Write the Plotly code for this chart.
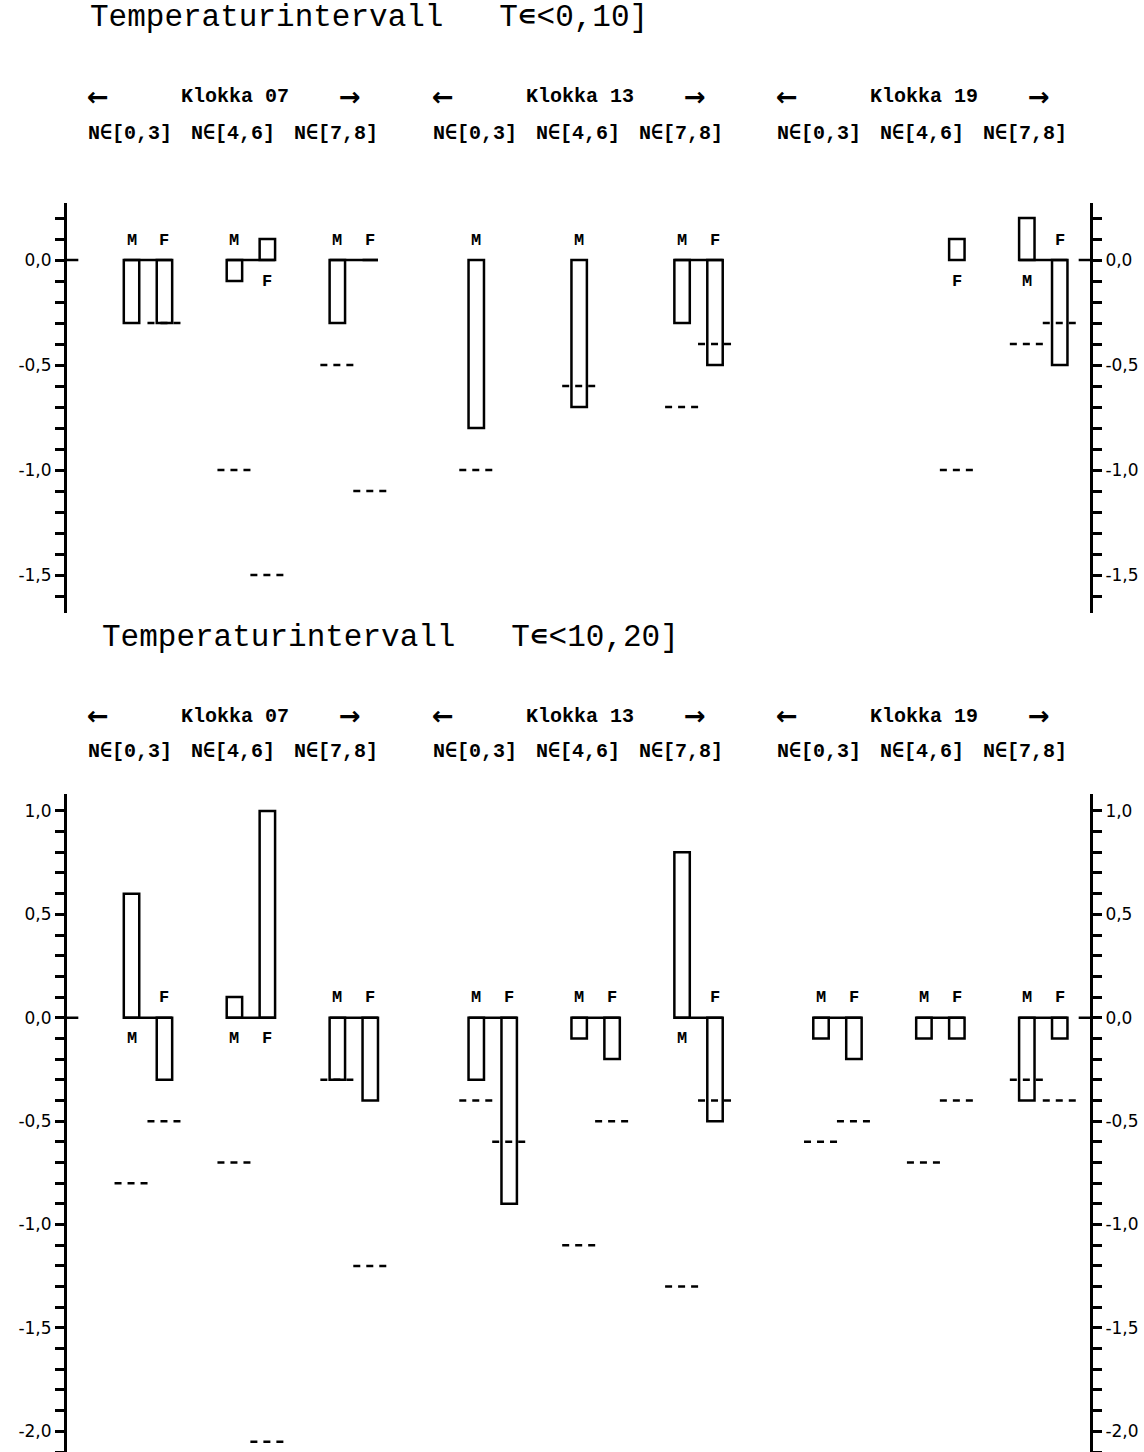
import plotly.graph_objects as go

# ---------------- data ----------------
clocks = ["07", "13", "19"]
n_classes = ["N∈[0,3]", "N∈[4,6]", "N∈[7,8]"]
panel_titles = ["Temperaturintervall   T∊<0,10]", "Temperaturintervall   T∊<10,20]"]

# top panel (T in <0,10]) : 9 groups = clock x N-class
top_M = [-0.3, -0.1, -0.3, -0.8, -0.7, -0.3, None, None, 0.2]
top_F = [-0.3, 0.1, 0.0, None, None, -0.5, None, 0.1, -0.5]
top_M_ref = [None, -1.0, -0.5, -1.0, -0.6, -0.7, None, None, -0.4]
top_F_ref = [-0.3, -1.5, -1.1, None, None, -0.4, None, -1.0, -0.3]

# bottom panel (T in <10,20])
bot_M = [0.6, 0.1, -0.3, -0.3, -0.1, 0.8, -0.1, -0.1, -0.4]
bot_F = [-0.3, 1.0, -0.4, -0.9, -0.2, -0.5, -0.2, -0.1, -0.1]
bot_M_ref = [-0.8, -0.7, -0.3, -0.4, -1.1, -1.3, -0.6, -0.7, -0.3]
bot_F_ref = [-0.5, -2.05, -1.2, -0.6, -0.5, -0.4, -0.5, -0.4, -0.4]

top_tick_vals = [-1.5, -1.0, -0.5, 0.0]
top_tick_text = ["-1,5", "-1,0", "-0,5", "0,0"]
bot_tick_vals = [-2.0, -1.5, -1.0, -0.5, 0.0, 0.5, 1.0]
bot_tick_text = ["-2,0", "-1,5", "-1,0", "-0,5", "0,0", "0,5", "1,0"]

# ---------------- layout helpers ----------------
W, H = 1144, 1452
CLOCK_GAP = 3.35
pos = [ci * CLOCK_GAP + ni for ci in range(len(clocks)) for ni in range(len(n_classes))]
OFF = 0.16
BW = 0.15
DW = 0.165
XR = [-0.787, 9.154]

def py(p):
    return 1 - p / H

def px(p):
    return p / W

fig = go.Figure()

panels = [
    dict(M=top_M, F=top_F, Mr=top_M_ref, Fr=top_F_ref, xa="x", ya="y"),
    dict(M=bot_M, F=bot_F, Mr=bot_M_ref, Fr=bot_F_ref, xa="x2", ya="y2"),
]

annotations = []
shapes = []
lab_font = dict(family="Liberation Mono, Courier New, monospace", size=17, color="black", weight="bold")

for p in panels:
    xa, ya = p["xa"], p["ya"]
    # baselines
    bx, byv = [], []
    for i, x in enumerate(pos):
        if p["M"][i] is not None and p["F"][i] is not None:
            bx += [x - OFF - BW / 2, x + OFF + BW / 2, None]
            byv += [0, 0, None]
    fig.add_trace(go.Scatter(x=bx, y=byv, mode="lines", line=dict(color="black", width=2.5),
                             xaxis=xa, yaxis=ya, showlegend=False, hoverinfo="skip"))
    # bars
    for key, sgn in (("M", -1), ("F", 1)):
        xs = [x + sgn * OFF for x in pos]
        fig.add_trace(go.Bar(x=xs, y=p[key], base=0, width=BW,
                             marker=dict(color="white", line=dict(color="black", width=2.5)),
                             xaxis=xa, yaxis=ya, showlegend=False, name=key))
    # reference dashes
    for key, sgn in (("Mr", -1), ("Fr", 1)):
        dx, dy = [], []
        for i, x in enumerate(pos):
            v = p[key][i]
            if v is not None:
                c = x + sgn * OFF
                dx += [c - DW, c + DW, None]
                dy += [v, v, None]
        fig.add_trace(go.Scatter(x=dx, y=dy, mode="lines",
                                 line=dict(color="black", width=2.5, dash="7px,6px"),
                                 xaxis=xa, yaxis=ya, showlegend=False, hoverinfo="skip"))
    # M / F labels
    for key, sgn in (("M", -1), ("F", 1)):
        for i, x in enumerate(pos):
            v = p[key][i]
            if v is None:
                continue
            annotations.append(dict(x=x + sgn * OFF, y=0, xref=xa, yref=ya, text=key,
                                    showarrow=False, font=lab_font,
                                    xanchor="center", yanchor="middle",
                                    yshift=20 if v <= 0 else -21))
    # zero ticks crossing the axes
    shapes.append(dict(type="line", xref=xa, yref=ya, x0=XR[0], x1=XR[0] + 0.11, y0=0, y1=0,
                       line=dict(color="black", width=2.5)))
    shapes.append(dict(type="line", xref=xa, yref=ya, x0=XR[1] - 0.11, x1=XR[1], y0=0, y1=0,
                       line=dict(color="black", width=2.5)))

# headers and titles
title_font = dict(family="Liberation Mono, Courier New, monospace", size=31, color="black")
hdr_font = dict(family="Liberation Mono, Courier New, monospace", size=20, color="black", weight="bold")
arrow_font = dict(family="DejaVu Sans, sans-serif", size=26, color="black", weight="bold")
title_pos = [(88, 18), (100, 637)]
klokka_y = [97, 716]
n_y = [133, 751]
for k, xa in enumerate(["x", "x2"]):
    annotations.append(dict(x=px(title_pos[k][0]), y=py(title_pos[k][1]), xref="paper", yref="paper",
                            text=panel_titles[k], showarrow=False, xanchor="left", yanchor="middle",
                            font=title_font))
    for ci, cl in enumerate(clocks):
        g = pos[ci * 3: ci * 3 + 3]
        common = dict(xref=xa, y=py(klokka_y[k]), yref="paper", showarrow=False,
                      xanchor="center", yanchor="middle")
        annotations.append(dict(x=g[0], text="←", xshift=-50, font=arrow_font, **common))
        annotations.append(dict(x=g[1], text="Klokka " + cl, xshift=-16, font=hdr_font, **common))
        annotations.append(dict(x=g[2], text="→", xshift=-4, font=arrow_font, **common))
        for ni, nc in enumerate(n_classes):
            annotations.append(dict(x=g[ni], xref=xa, y=py(n_y[k]), yref="paper", text=nc,
                                    showarrow=False, xanchor="center", yanchor="middle",
                                    xshift=-18, font=hdr_font))

xdom = [px(67), px(1090)]
tick_font = dict(family="DejaVu Sans, sans-serif", size=17, color="black")

def yax(rng, dom, tv, tt, **kw):
    d = dict(range=rng, domain=dom, showline=True, linecolor="black", linewidth=3,
             ticks="outside", ticklen=9, tickwidth=2.5, tickcolor="black",
             tickmode="array", tickvals=tv, ticktext=tt, tickfont=tick_font,
             showgrid=False, zeroline=False, fixedrange=True,
             minor=dict(tickmode="linear", tick0=0, dtick=0.1, ticks="outside", ticklen=9,
                        tickwidth=2.5, tickcolor="black", showgrid=False))
    d.update(kw)
    return d

top_rng = [-1.68, 0.27]
top_dom = [py(612.8), py(203.3)]
bot_rng = [-2.1, 1.08]
bot_dom = [py(1452), py(794.4)]

fig.update_layout(
    width=W, height=H, margin=dict(l=0, r=0, t=0, b=0),
    paper_bgcolor="white", plot_bgcolor="white",
    barmode="overlay", showlegend=False,
    xaxis=dict(range=XR, domain=xdom, visible=False, anchor="y"),
    xaxis2=dict(range=XR, domain=xdom, visible=False, anchor="y2"),
    yaxis=yax(top_rng, top_dom, top_tick_vals, top_tick_text, anchor="x"),
    yaxis2=yax(bot_rng, bot_dom, bot_tick_vals, bot_tick_text, anchor="x2"),
    yaxis3=yax(top_rng, top_dom, top_tick_vals, top_tick_text, anchor="x", overlaying="y", side="right"),
    yaxis4=yax(bot_rng, bot_dom, bot_tick_vals, bot_tick_text, anchor="x2", overlaying="y2", side="right"),
    annotations=annotations, shapes=shapes,
)

# dummy traces so right axes render
fig.add_trace(go.Scatter(x=[None], y=[None], xaxis="x", yaxis="y3", showlegend=False))
fig.add_trace(go.Scatter(x=[None], y=[None], xaxis="x2", yaxis="y4", showlegend=False))

fig.write_html("out.html", config={"displayModeBar": False},
               post_script="document.body.style.margin='0';document.body.style.overflow='hidden';")
